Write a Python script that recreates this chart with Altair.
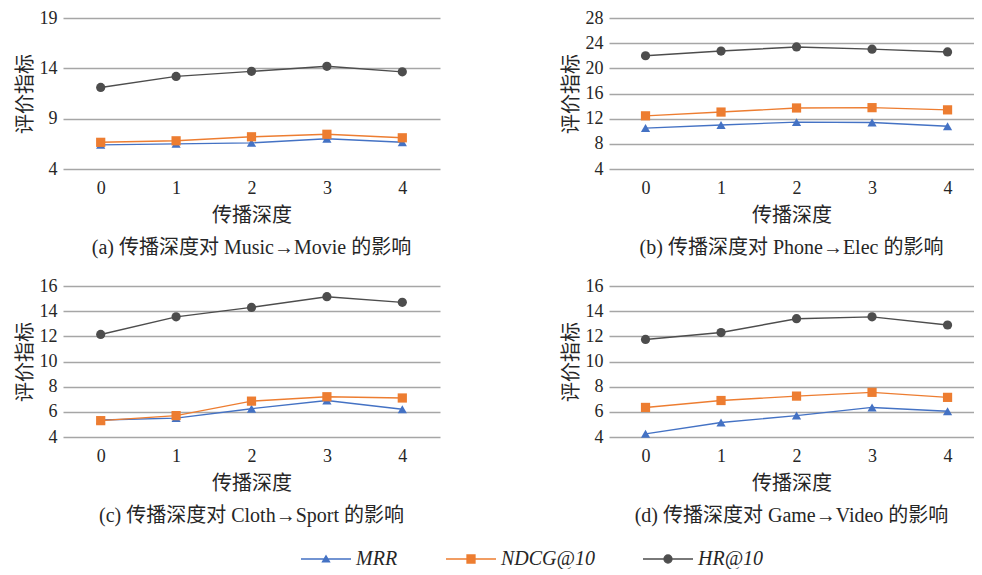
import altair as alt
import pandas as pd

depth = ["0", "1", "2", "3", "4"]
metrics = ["MRR", "NDCG@10", "HR@10"]
colors = ["#4472C4", "#ED7D31", "#4D4D4D"]
shapes = ["triangle-up", "square", "circle"]

a_mrr = [6.4, 6.5, 6.6, 7.0, 6.65]
a_ndcg = [6.65, 6.8, 7.2, 7.45, 7.1]
a_hr = [12.1, 13.2, 13.7, 14.2, 13.65]

b_mrr = [10.5, 11.0, 11.45, 11.4, 10.8]
b_ndcg = [12.45, 13.05, 13.7, 13.75, 13.4]
b_hr = [22.0, 22.75, 23.4, 23.05, 22.6]

c_mrr = [5.35, 5.5, 6.25, 6.9, 6.2]
c_ndcg = [5.3, 5.7, 6.85, 7.2, 7.1]
c_hr = [12.15, 13.55, 14.3, 15.15, 14.7]

d_mrr = [4.25, 5.15, 5.7, 6.35, 6.05]
d_ndcg = [6.35, 6.9, 7.25, 7.55, 7.15]
d_hr = [11.75, 12.3, 13.4, 13.55, 12.9]

captions = [
    "(a) 传播深度对 Music→Movie 的影响",
    "(b) 传播深度对 Phone→Elec 的影响",
    "(c) 传播深度对 Cloth→Sport 的影响",
    "(d) 传播深度对 Game→Video 的影响",
]
y_domains = [[4, 19], [4, 28], [4, 16], [4, 16]]
y_ticks = [
    [4, 9, 14, 19],
    [4, 8, 12, 16, 20, 24, 28],
    [4, 6, 8, 10, 12, 14, 16],
    [4, 6, 8, 10, 12, 14, 16],
]

SERIF = "Liberation Serif, Noto Sans CJK SC"
CJK = "Noto Sans CJK SC"

# legend symbols: a line with the marker in its middle
legend_paths = [
    "M-5,0H5M-0.7,0.55L0,-0.65L0.7,0.55Z",
    "M-5,0H5M-0.8,-0.8H0.8V0.8H-0.8Z",
    "M-5,0H5M-0.8,0A0.8,0.8,0,1,0,0.8,0A0.8,0.8,0,1,0,-0.8,0Z",
]


def pick(vals):
    return alt.ExprRef(
        f"datum.value === '{metrics[0]}' ? '{vals[0]}' : "
        f"(datum.value === '{metrics[1]}' ? '{vals[1]}' : '{vals[2]}')"
    )


legend = alt.Legend(
    title=None,
    orient="none",
    legendX=233,
    legendY=531,
    direction="horizontal",
    symbolSize=100,
    symbolOffset=20,
    labelOffset=20,
    columnPadding=43,
    symbolType=pick(legend_paths),
    symbolFillColor=pick(colors),
    symbolStrokeColor=pick(colors),
    symbolStrokeWidth=1.3,
    symbolOpacity=1,
    labelFont="Liberation Serif",
    labelFontSize=20,
    labelFontStyle="italic",
    labelColor="#262626",
)


def panel(mrr, ndcg, hr, caption, domain, ticks, width, xpad, xalign):
    df = pd.DataFrame(
        {
            "depth": depth * 3,
            "metric": [metrics[0]] * 5 + [metrics[1]] * 5 + [metrics[2]] * 5,
            "value": mrr + ndcg + hr,
        }
    )
    base = alt.Chart(df).encode(
        x=alt.X(
            "depth:O",
            sort=depth,
            scale=alt.Scale(type="point", padding=xpad, align=xalign),
            axis=alt.Axis(
                title="传播深度",
                labelAngle=0,
                grid=False,
                labelPadding=10,
                titlePadding=8,
            ),
        ),
        y=alt.Y(
            "value:Q",
            scale=alt.Scale(domain=domain, nice=False, zero=False),
            axis=alt.Axis(values=ticks, title="评价指标", grid=True, labelPadding=6, titlePadding=4),
        ),
    )
    line = base.mark_line(strokeWidth=1.4).encode(
        color=alt.Color(
            "metric:N", sort=metrics, scale=alt.Scale(domain=metrics, range=colors), legend=legend
        )
    )
    layers = [line]
    for i, m in enumerate(metrics):
        layers.append(
            base.transform_filter(alt.datum.metric == m).mark_point(
                shape=shapes[i], filled=True, size=85, opacity=1, color=colors[i]
            )
        )
    return alt.layer(*layers).properties(
        width=width,
        height=151,
        title=alt.TitleParams(
            text=caption,
            orient="bottom",
            anchor="middle",
            font=SERIF,
            fontSize=20,
            fontWeight="normal",
            color="#262626",
            offset=13,
        ),
    )


pa = panel(a_mrr, a_ndcg, a_hr, captions[0], y_domains[0], y_ticks[0], 377, 0.5, 0.5)
pb = panel(b_mrr, b_ndcg, b_hr, captions[1], y_domains[1], y_ticks[1], 365, 0.417, 0.58)
pc = panel(c_mrr, c_ndcg, c_hr, captions[2], y_domains[2], y_ticks[2], 377, 0.5, 0.5)
pd_ = panel(d_mrr, d_ndcg, d_hr, captions[3], y_domains[3], y_ticks[3], 365, 0.417, 0.58)

chart = (
    alt.vconcat(
        alt.hconcat(pa, pb, spacing=121),
        alt.hconcat(pc, pd_, spacing=121),
        spacing=19,
    )
    .properties(padding={"left": 7, "top": 1, "right": 0, "bottom": 0})
    .configure_view(stroke=None)
    .configure_axis(
        domain=False,
        ticks=False,
        gridColor="#A6A6A6",
        gridWidth=1.3,
        labelFont="Liberation Serif",
        labelFontSize=18,
        labelColor="#262626",
        titleFont=CJK,
        titleFontSize=20,
        titleFontWeight="normal",
        titleColor="#262626",
    )
)

chart.save("out.html", embed_options={"renderer": "svg", "actions": False})
